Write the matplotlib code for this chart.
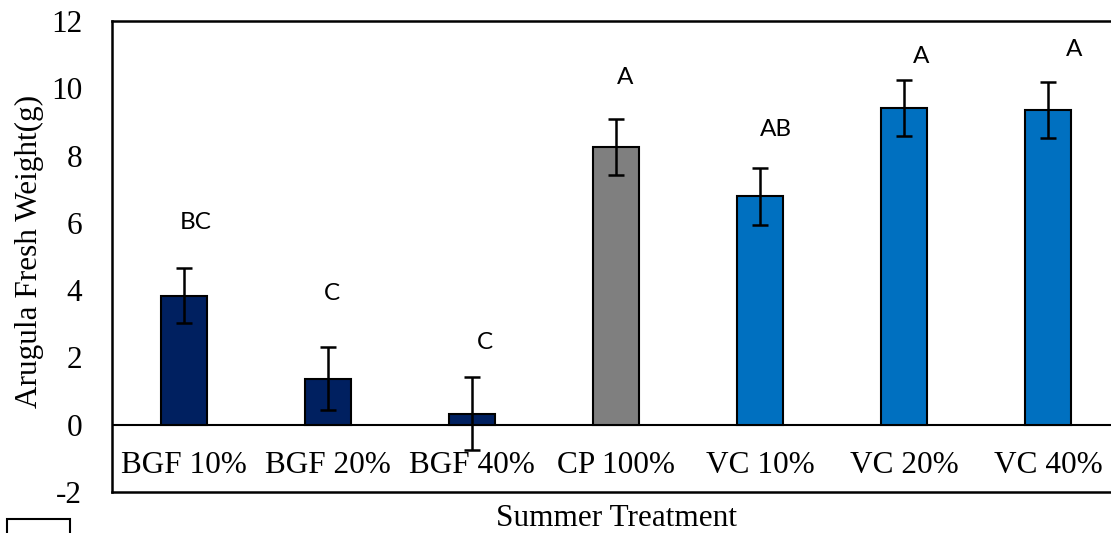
import matplotlib
matplotlib.use("Agg")
import matplotlib.pyplot as plt
from matplotlib.patches import Rectangle

categories = ["BGF 10%", "BGF 20%", "BGF 40%", "CP 100%", "VC 10%", "VC 20%", "VC 40%"]
values = [3.84, 1.37, 0.33, 8.26, 6.79, 9.41, 9.35]
errors = [0.83, 0.93, 1.08, 0.84, 0.84, 0.84, 0.84]
letters = ["BC", "C", "C", "A", "AB", "A", "A"]
letter_y = [6.0, 3.9, 2.44, 10.33, 8.78, 10.95, 11.16]
letter_dx = [0.08, 0.03, 0.09, 0.06, 0.11, 0.12, 0.18]
colors = ["#002060", "#002060", "#002060", "#7F7F7F", "#0070C0", "#0070C0", "#0070C0"]

W, H = 1111, 533
fig = plt.figure(figsize=(W / 100, H / 100), dpi=100)
left, right, top, bottom = 112, 1120, 21, 492
ax = fig.add_axes([left / W, 1 - bottom / H, (right - left) / W, (bottom - top) / H])

x = list(range(len(categories)))
ax.bar(x, values, width=0.32, color=colors, edgecolor="black", linewidth=1.5, zorder=2)
ax.errorbar(x, values, yerr=errors, fmt="none", ecolor="black", elinewidth=1.8,
            capsize=6, capthick=1.8, zorder=3)
ax.axhline(0, color="black", linewidth=1.5, zorder=1)

for xi, t, ly, dx in zip(x, letters, letter_y, letter_dx):
    ax.text(xi + dx, ly, t, ha="center", va="center", fontsize=17.5, family="Lato")

for xi, c in zip(x, categories):
    ax.text(xi, -1.2, c, ha="center", va="center", fontsize=22.5, family="Liberation Serif")

ax.set_xlim(-0.5, len(categories) - 0.5)
ax.set_ylim(-2, 12)
ax.set_yticks([-2, 0, 2, 4, 6, 8, 10, 12])
ax.set_yticklabels(["-2", "0", "2", "4", "6", "8", "10", "12"], family="Liberation Serif", fontsize=22.5)
ax.tick_params(axis="y", length=0, pad=21.5)
ax.set_xticks([])
for s in ax.spines.values():
    s.set_linewidth(1.8)
    s.set_color("black")

fig.text(29 / W, 1 - 251 / H, "Arugula Fresh Weight(g)", rotation=90, ha="center", va="center",
         fontsize=22.5, family="Liberation Serif")
fig.text(616 / W, 1 - 518 / H, "Summer Treatment", ha="center", va="center",
         fontsize=22.5, family="Liberation Serif")

fig.patches.append(Rectangle((7 / W, -0.05), 63 / W, 14 / H + 0.05, transform=fig.transFigure,
                             fill=False, edgecolor="black", linewidth=1.5))

fig.savefig("out.png", dpi=100)
